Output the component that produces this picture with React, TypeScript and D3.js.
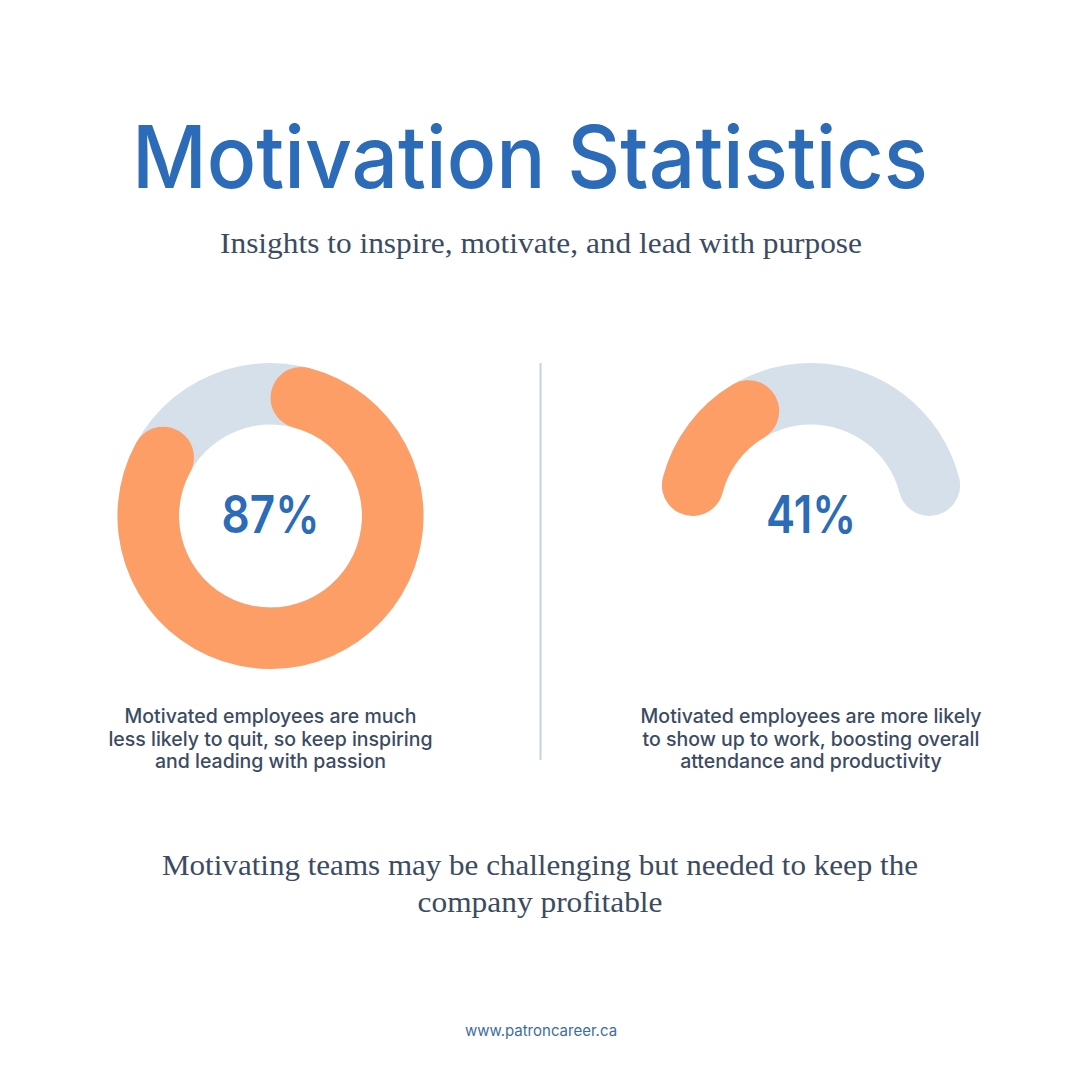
import React from "react";
import * as d3 from "d3";

const title = "Motivation Statistics";
const subtitle = "Insights to inspire, motivate, and lead with purpose";
const statValues = [87, 41];
const statLabels = ["87%", "41%"];
const gaugeKinds = ["full", "half"];
const descriptions = [
  ["Motivated employees are much", "less likely to quit, so keep inspiring", "and leading with passion"],
  ["Motivated employees are more likely", "to show up to work, boosting overall", "attendance and productivity"],
];
const closingLines = [
  "Motivating teams may be challenging but needed to keep the",
  "company profitable",
];
const footer = "www.patroncareer.ca";

const BLUE = "#2b6bb8";
const ORANGE = "#fe9e67";
const TRACK = "#d6e0ea";
const DARK = "#3b4b63";

const W = 1080;
const H = 1080;
const centersX = [270.5, 811];
const centerY = 516;
const innerR = 91.5;
const outerR = 153;

export default function App() {
  const arc = d3
    .arc<any>()
    .innerRadius(innerR)
    .outerRadius(outerR)
    .cornerRadius((outerR - innerR) / 2);

  const angleScales: Record<string, d3.ScaleLinear<number, number>> = {
    full: d3.scaleLinear().domain([0, 100]).range([0, 2 * Math.PI]),
    half: d3.scaleLinear().domain([0, 100]).range([-Math.PI / 2, Math.PI / 2]),
  };

  const sans = "Inter, 'Open Sans', sans-serif";
  const serif = "'Liberation Serif', 'DejaVu Serif', serif";
  const labelWidths = [98, 90];

  return (
    <div style={{ position: "fixed", left: 0, top: 0, width: W, height: H, background: "#fff" }}>
      <svg width={W} height={H} viewBox={`0 0 ${W} ${H}`}>
        <rect width={W} height={H} fill="#fff" />
        <text
          x={530}
          y={188}
          textAnchor="middle"
          fontFamily={sans}
          fontWeight={550}
          fontSize={87}
          fill={BLUE}
          textLength={796}
          lengthAdjust="spacingAndGlyphs"
        >
          {title}
        </text>
        <text
          x={541}
          y={253}
          textAnchor="middle"
          fontFamily={serif}
          fontSize={29}
          fill={DARK}
          textLength={642}
          lengthAdjust="spacingAndGlyphs"
        >
          {subtitle}
        </text>

        <line x1={540.5} x2={540.5} y1={363} y2={760} stroke="#c3d2e0" strokeWidth={2} />

        {statValues.map((v, i) => {
          const kind = gaugeKinds[i];
          const sc = angleScales[kind];
          const trackPath = arc({ startAngle: sc(0), endAngle: sc(100) }) as string;
          const valPath = arc({ startAngle: sc(0), endAngle: sc(v) }) as string;
          return (
            <g key={i} transform={`translate(${centersX[i]},${centerY})`}>
              <path d={trackPath} fill={TRACK} />
              <path d={valPath} fill={ORANGE} />
              <text
                x={0}
                y={17}
                textAnchor="middle"
                fontFamily={sans}
                fontWeight={600}
                fontSize={52}
                fill={BLUE}
                textLength={labelWidths[i]}
                lengthAdjust="spacingAndGlyphs"
              >
                {statLabels[i]}
              </text>
            </g>
          );
        })}

        {descriptions.map((lines, i) => (
          <g key={i}>
            {lines.map((ln, j) => (
              <text
                key={j}
                x={centersX[i]}
                y={723 + j * 22.5}
                textAnchor="middle"
                fontFamily={sans}
                fontWeight={500}
                fontSize={19.5}
                fill={DARK}
              >
                {ln}
              </text>
            ))}
          </g>
        ))}

        {closingLines.map((ln, j) => (
          <text
            key={j}
            x={540}
            y={875 + j * 37}
            textAnchor="middle"
            fontFamily={serif}
            fontSize={30}
            fill={DARK}
            textLength={j === 0 ? 756 : 245}
            lengthAdjust="spacingAndGlyphs"
          >
            {ln}
          </text>
        ))}

        <text
          x={541}
          y={1036}
          textAnchor="middle"
          fontFamily={sans}
          fontSize={15}
          fill="#3d6d9e"
        >
          {footer}
        </text>
      </svg>
    </div>
  );
}
